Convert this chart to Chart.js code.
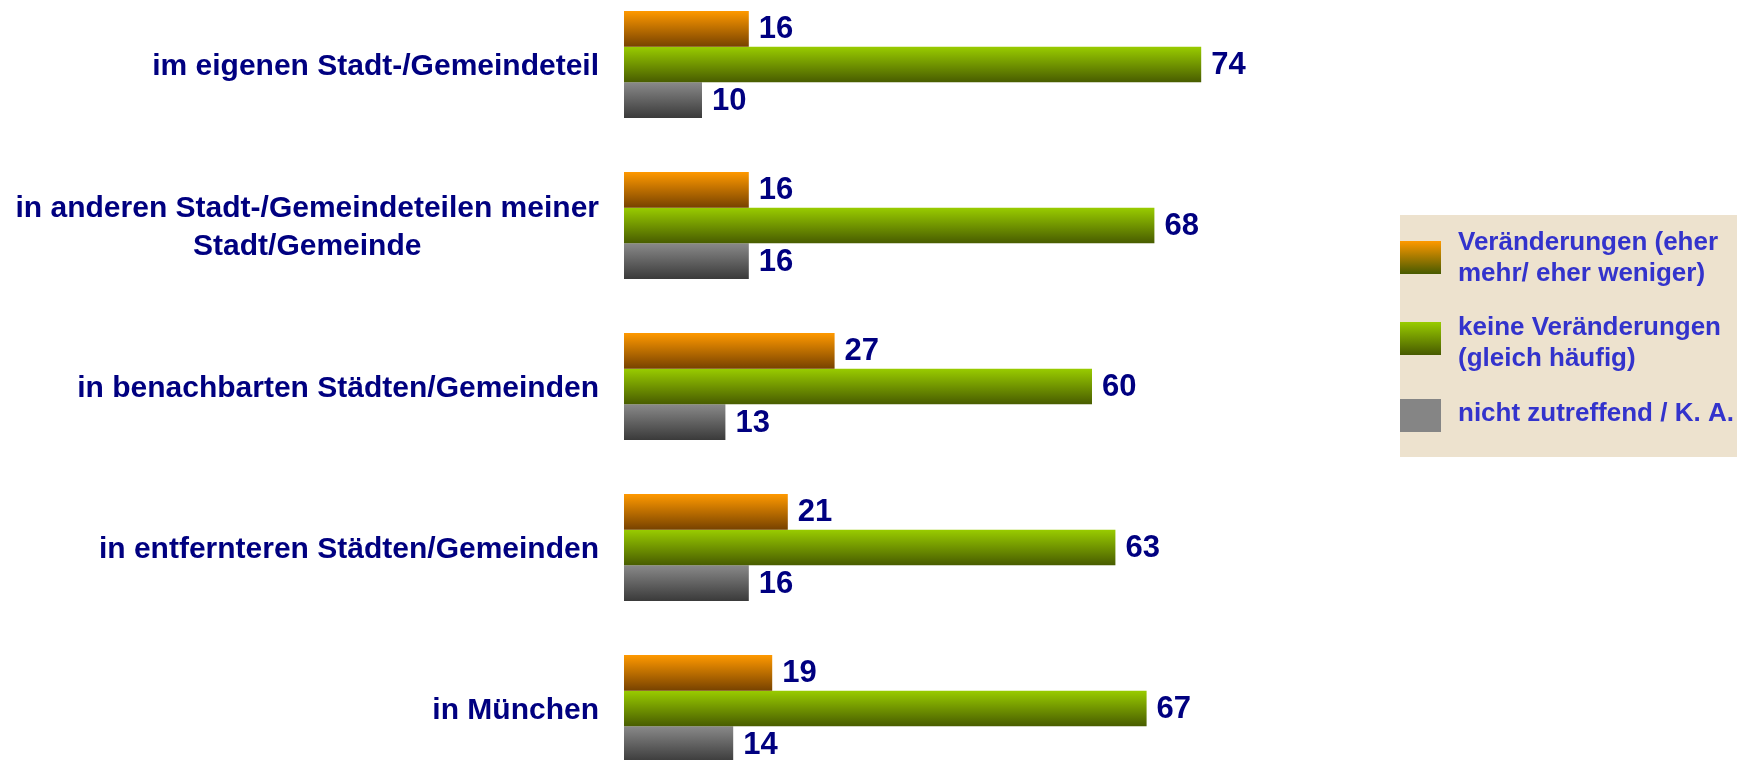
<!DOCTYPE html>
<html>
<head>
<meta charset="utf-8">
<script src="https://cdn.jsdelivr.net/npm/chart.js@4.4.0/dist/chart.umd.min.js"></script>
<style>
  html, body { margin: 0; padding: 0; background: #fff; overflow: hidden; }
  #wrap { position: absolute; left: 0; top: -16px; width: 1749px; height: 805px; }
</style>
</head>
<body>
<div id="wrap"><canvas id="chart"></canvas></div>
<script>
const kategorien = [
    ["im eigenen Stadt-/Gemeindeteil"],
    ["in anderen Stadt-/Gemeindeteilen meiner", "Stadt/Gemeinde"],
    ["in benachbarten Städten/Gemeinden"],
    ["in entfernteren Städten/Gemeinden"],
    ["in München"],
];

const serienNamen = [
    ["Veränderungen (eher", "mehr/ eher weniger)"],
    ["keine Veränderungen", "(gleich häufig)"],
    ["nicht zutreffend / K. A."],
];

const veraenderungen = [16, 16, 27, 21, 19];
const keineVeraenderungen = [74, 68, 60, 63, 67];
const nichtZutreffend = [10, 16, 13, 16, 14];

const OFFSET = 16; // canvas sits 16px above the page
const navy = "#000080";
const legendBlue = "#3333cc";
const catPct = 0.665;

// vertical gradient per bar, computed from the category scale
function barGradient(top, bottom) {
    return function (c) {
        const chart = c.chart;
        const ys = chart.scales.y;
        if (!ys || !chart.chartArea || c.dataIndex === undefined) return top;
        const center = ys.getPixelForValue(c.dataIndex);
        const pitch = ys.height / kategorien.length;
        const h = (pitch * catPct) / 3;
        const y0 = center + (c.datasetIndex - 1.5) * h;
        const g = chart.ctx.createLinearGradient(0, y0, 0, y0 + h);
        g.addColorStop(0, top);
        g.addColorStop(1, bottom);
        return g;
    };
}

const valueLabels = {
    id: "valueLabels",
    afterDatasetsDraw(chart) {
        const ctx = chart.ctx;
        ctx.save();
        ctx.font = "bold 31px 'Liberation Sans', Arial, sans-serif";
        ctx.fillStyle = navy;
        ctx.textAlign = "left";
        ctx.textBaseline = "middle";
        chart.data.datasets.forEach((ds, i) => {
            chart.getDatasetMeta(i).data.forEach((bar, j) => {
                ctx.fillText(ds.data[j], bar.x + 10, bar.y + 1);
            });
        });
        ctx.restore();
    },
};

const categoryLabels = {
    id: "categoryLabels",
    afterDraw(chart) {
        const ctx = chart.ctx;
        const ys = chart.scales.y;
        ctx.save();
        ctx.font = "bold 30px 'Liberation Sans', Arial, sans-serif";
        ctx.fillStyle = navy;
        ctx.textAlign = "center";
        ctx.textBaseline = "middle";
        const right = chart.chartArea.left - 25;
        kategorien.forEach((lines, i) => {
            const yc = ys.getPixelForValue(i);
            const w = Math.max(...lines.map((l) => ctx.measureText(l).width));
            const xc = right - w / 2;
            lines.forEach((l, k) => {
                ctx.fillText(l, xc, yc + (k - (lines.length - 1) / 2) * 38 + 2);
            });
        });
        ctx.restore();
    },
};

const boxLegend = {
    id: "boxLegend",
    afterDraw(chart) {
        const ctx = chart.ctx;
        ctx.save();
        ctx.fillStyle = "#ede2ce";
        ctx.fillRect(1400, 215 + OFFSET, 337, 242);

        const swatches = [
            { y: 241, c1: "#ff9900", c2: "#475a00" },
            { y: 322, c1: "#99cc00", c2: "#475a00" },
            { y: 399, c1: "#858585", c2: "#858585" },
        ];
        const lineY = [[241.7, 273.3], [326.7, 358], [413]];

        ctx.font = "bold 26px 'Liberation Sans', Arial, sans-serif";
        ctx.fillStyle = legendBlue;
        ctx.textAlign = "left";
        ctx.textBaseline = "middle";
        serienNamen.forEach((lines, i) => {
            const s = swatches[i];
            const g = ctx.createLinearGradient(0, s.y + OFFSET, 0, s.y + 33 + OFFSET);
            g.addColorStop(0, s.c1);
            g.addColorStop(1, s.c2);
            ctx.fillStyle = g;
            ctx.fillRect(1400, s.y + OFFSET, 41, 33);
            ctx.fillStyle = legendBlue;
            lines.forEach((l, k) => ctx.fillText(l, 1458, lineY[i][k] + OFFSET + 1));
        });
        ctx.restore();
    },
};

new Chart(document.getElementById("chart"), {
    type: "bar",
    data: {
        labels: kategorien,
        datasets: [
            {
                label: serienNamen[0].join(" "),
                data: veraenderungen,
                backgroundColor: barGradient("#ff9900", "#774200"),
            },
            {
                label: serienNamen[1].join(" "),
                data: keineVeraenderungen,
                backgroundColor: barGradient("#99cc00", "#485c00"),
            },
            {
                label: serienNamen[2].join(" "),
                data: nichtZutreffend,
                backgroundColor: barGradient("#898989", "#3a3a3a"),
            },
        ],
    },
    options: {
        indexAxis: "y",
        responsive: true,
        maintainAspectRatio: false,
        animation: false,
        layout: { padding: { left: 0, right: 345, top: 0, bottom: 0 } },
        datasets: {
            bar: { categoryPercentage: catPct, barPercentage: 1, borderWidth: 0 },
        },
        scales: {
            x: { min: 0, max: 100, display: false },
            y: {
                grid: { display: false },
                border: { display: false },
                ticks: { display: false },
                afterFit: (scale) => { scale.width = 624; },
            },
        },
        plugins: {
            legend: { display: false },
            tooltip: { enabled: false },
        },
    },
    plugins: [valueLabels, categoryLabels, boxLegend],
});
</script>
</body>
</html>
